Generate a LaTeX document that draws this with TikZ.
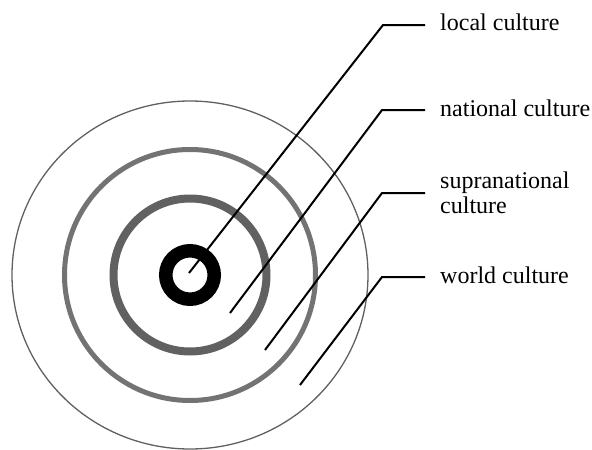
\documentclass[tikz,border=0pt]{standalone}
\usepackage{fontspec}
\setmainfont{Liberation Serif}
\begin{document}
\begin{tikzpicture}[x=1pt,y=-1pt,
  leader/.style={line width=2pt,black,line join=miter},
  lbl/.style={anchor=base west,inner sep=0pt,font=\fontsize{24}{25}\selectfont,align=left}]
\useasboundingbox (0,0) rectangle (592,450);
\coordinate (c) at (190,275);
% rings
\draw[gray!75!black,line width=1.3pt] (c) ellipse [x radius=178,y radius=174];
\draw[black!55,line width=5pt] (c) circle [radius=125.5];
\draw[black!62,line width=8pt] (c) circle [radius=76.5];
\draw[black,line width=13.5pt] (c) circle [radius=24.25];
% labels
\node[lbl] (t1) at (440,30) {local culture};
\node[lbl] (t2) at (440,116) {national culture};
\node[lbl,anchor=west] (t3) at (440,193) {supranational\\culture};
\node[lbl] (t4) at (440,283) {world culture};
% leader line points
\coordinate (s1) at (189,273); \coordinate (k1) at (383,25);  \coordinate (e1) at (425,25);
\coordinate (s2) at (230,313); \coordinate (k2) at (382,110); \coordinate (e2) at (425,110);
\coordinate (s3) at (265,350); \coordinate (k3) at (382,193); \coordinate (e3) at (425,193);
\coordinate (s4) at (300,385); \coordinate (k4) at (382,277); \coordinate (e4) at (425,277);
\draw[leader] (s1) -- (k1) -- (e1);
\draw[leader] (s2) -- (k2) -- (e2);
\draw[leader] (s3) -- (k3) -- (e3);
\draw[leader] (s4) -- (k4) -- (e4);
\end{tikzpicture}
\end{document}
